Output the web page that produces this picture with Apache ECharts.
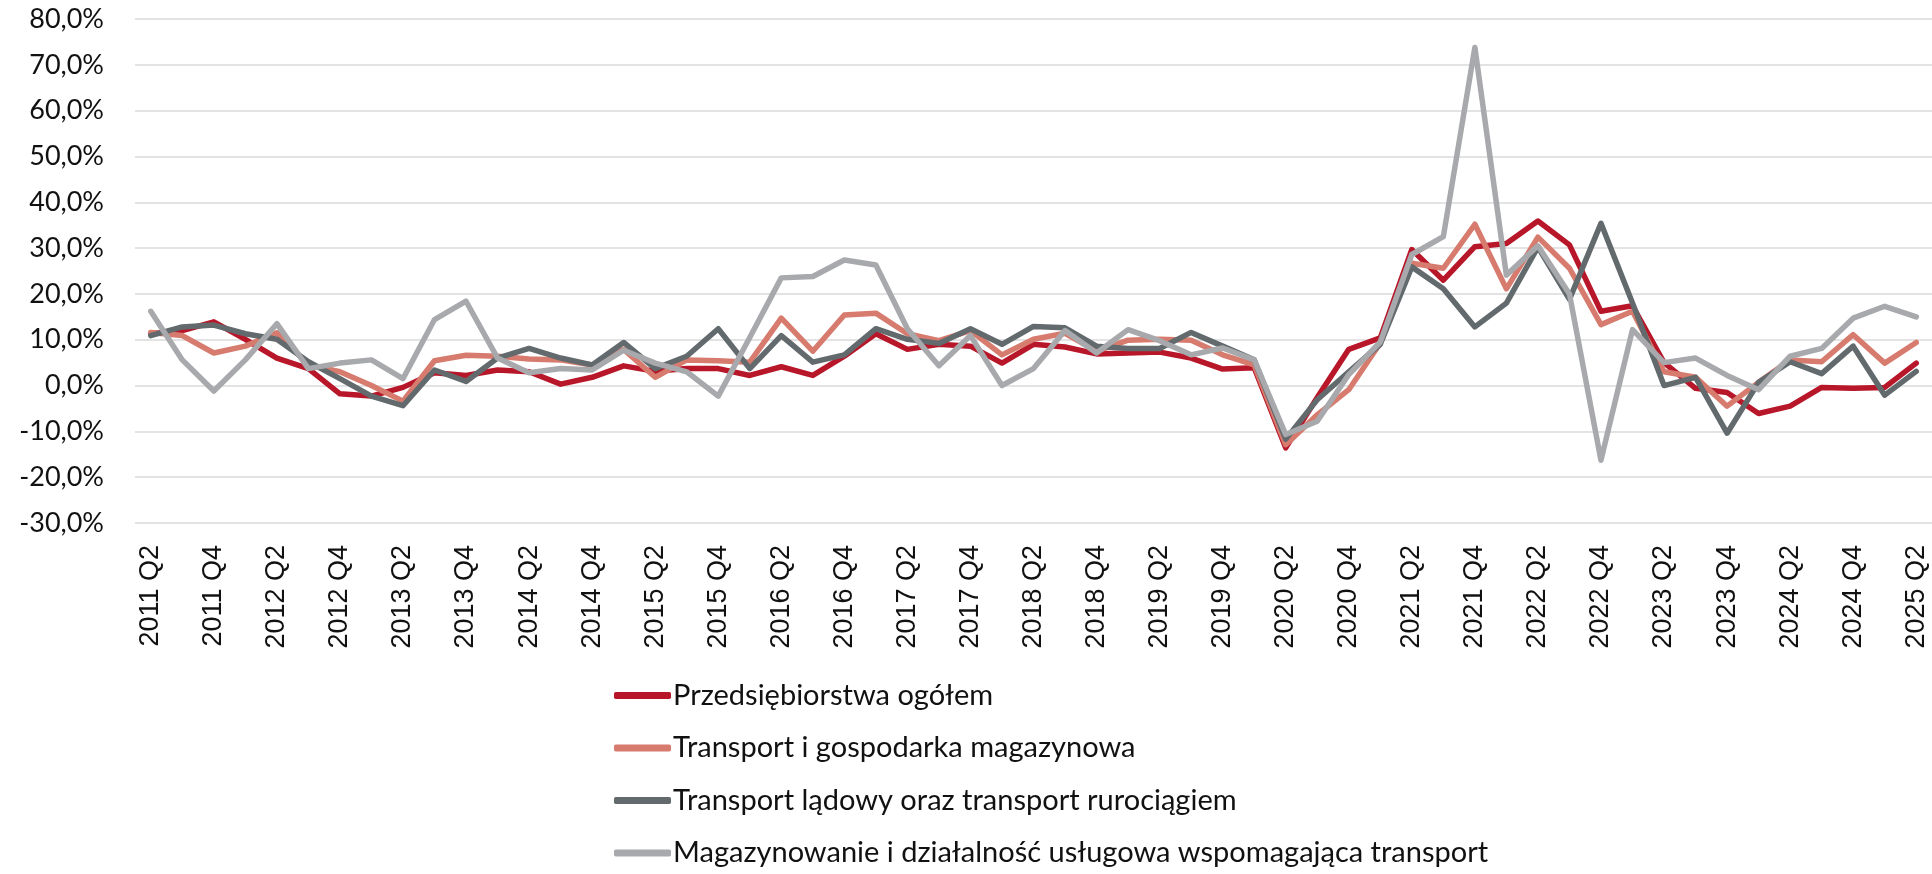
<!DOCTYPE html>
<html>
<head>
<meta charset="utf-8">
<script src="https://cdn.jsdelivr.net/npm/echarts@6/dist/echarts.min.js"></script>
<style>
html,body{margin:0;padding:0;background:#fff;}
#chart{width:1932px;height:874px;}
</style>
</head>
<body>
<div id="chart"></div>
<script>
const categories = [
  '2011 Q2','2011 Q3','2011 Q4',
  '2012 Q1','2012 Q2','2012 Q3','2012 Q4',
  '2013 Q1','2013 Q2','2013 Q3','2013 Q4',
  '2014 Q1','2014 Q2','2014 Q3','2014 Q4',
  '2015 Q1','2015 Q2','2015 Q3','2015 Q4',
  '2016 Q1','2016 Q2','2016 Q3','2016 Q4',
  '2017 Q1','2017 Q2','2017 Q3','2017 Q4',
  '2018 Q1','2018 Q2','2018 Q3','2018 Q4',
  '2019 Q1','2019 Q2','2019 Q3','2019 Q4',
  '2020 Q1','2020 Q2','2020 Q3','2020 Q4',
  '2021 Q1','2021 Q2','2021 Q3','2021 Q4',
  '2022 Q1','2022 Q2','2022 Q3','2022 Q4',
  '2023 Q1','2023 Q2','2023 Q3','2023 Q4',
  '2024 Q1','2024 Q2','2024 Q3','2024 Q4',
  '2025 Q1','2025 Q2'
];

const seriesNames = [
  'Przedsiębiorstwa ogółem',
  'Transport i gospodarka magazynowa',
  'Transport lądowy oraz transport rurociągiem',
  'Magazynowanie i działalność usługowa wspomagająca transport'
];

const przedsiebiorstwa = [
  11.3, 12.0, 13.9, 10.1, 6.0, 3.7, -1.8, -2.3, -0.4, 2.8,
  2.2, 3.4, 3.0, 0.3, 1.8, 4.3, 3.1, 3.7, 3.7, 2.2,
  4.1, 2.2, 6.4, 11.3, 7.9, 9.0, 8.6, 4.9, 9.0, 8.4,
  6.9, 7.1, 7.3, 6.0, 3.6, 3.9, -13.6, -2.6, 7.9, 10.4,
  29.7, 23.0, 30.3, 31.0, 35.9, 30.7, 16.2, 17.4, 5.0, -0.6,
  -1.5, -6.1, -4.5, -0.4, -0.6, -0.4, 4.9
];

const transportGospodarka = [
  11.6, 10.9, 7.1, 8.6, 11.5, 4.5, 3.0, 0.0, -3.4, 5.4,
  6.6, 6.4, 5.8, 5.6, 4.5, 7.9, 1.8, 5.6, 5.4, 5.1,
  14.7, 7.5, 15.4, 15.8, 11.3, 9.8, 12.0, 6.7, 10.1, 11.4,
  7.5, 9.9, 10.1, 9.9, 6.7, 4.5, -12.9, -6.4, -0.9, 9.3,
  26.7, 25.6, 35.2, 21.1, 32.4, 25.6, 13.3, 16.2, 3.0, 1.8,
  -4.5, 0.7, 5.6, 5.2, 11.1, 4.9, 9.4
];

const transportLadowy = [
  10.9, 12.8, 13.2, 11.3, 10.1, 5.2, 1.5, -2.3, -4.4, 3.4,
  0.9, 6.0, 8.1, 6.0, 4.5, 9.4, 3.7, 6.4, 12.4, 3.7,
  10.9, 5.1, 6.7, 12.4, 10.1, 9.2, 12.4, 9.0, 12.9, 12.6,
  8.6, 8.1, 8.1, 11.6, 8.6, 5.6, -11.7, -3.1, 3.0, 9.0,
  25.9, 21.1, 12.8, 18.0, 30.2, 18.8, 35.4, 18.0, 0.0, 1.8,
  -10.4, 0.7, 5.2, 2.6, 8.6, -2.1, 3.1
];

const magazynowanie = [
  16.2, 5.6, -1.2, 5.6, 13.5, 3.7, 4.9, 5.6, 1.5, 14.4,
  18.4, 6.0, 2.8, 3.7, 3.4, 7.7, 4.9, 3.0, -2.3, 10.5,
  23.5, 23.8, 27.4, 26.3, 12.4, 4.3, 10.9, 0.0, 3.7, 12.0,
  7.1, 12.2, 9.8, 6.7, 8.2, 5.6, -10.7, -7.8, 2.4, 9.5,
  28.6, 32.5, 73.8, 24.1, 30.5, 20.0, -16.3, 12.2, 5.0, 6.0,
  2.2, -0.9, 6.4, 8.1, 14.7, 17.3, 15.0
];

const colors = ['#b8172a', '#d67b6e', '#636a6d', '#a7a9ac'];
const seriesData = [przedsiebiorstwa, transportGospodarka, transportLadowy, magazynowanie];

const chart = echarts.init(document.getElementById('chart'), null, {renderer: 'canvas'});

chart.setOption({
  animation: false,
  backgroundColor: '#ffffff',
  color: colors,
  grid: {left: 135, right: -4, top: 19, bottom: 351, containLabel: false},
  legend: {
    orient: 'vertical',
    left: 609,
    top: 676,
    height: 200,
    itemWidth: 57,
    itemHeight: 7,
    itemGap: 23.5,
    icon: 'roundRect',
    textStyle: {fontFamily: 'Lato', fontSize: 29, color: '#111', lineHeight: 20, padding: [0, 0, 0, -3]},
    data: seriesNames
  },
  xAxis: {
    type: 'category',
    data: categories,
    boundaryGap: true,
    axisLine: {show: false},
    axisTick: {show: false},
    axisLabel: {
      interval: 1,
      rotate: 90,
      margin: 22,
      fontFamily: 'Liberation Sans',
      fontSize: 27,
      color: '#111'
    },
    splitLine: {show: false}
  },
  yAxis: {
    type: 'value',
    min: -30,
    max: 80,
    interval: 10,
    axisLine: {show: false},
    axisTick: {show: false},
    axisLabel: {
      margin: 31,
      fontFamily: 'Lato',
      fontSize: 27,
      color: '#111',
      formatter: v => v.toFixed(1).replace('.', ',') + '%'
    },
    splitLine: {lineStyle: {color: '#e3e3e3', width: 2}}
  },
  series: seriesNames.map((name, k) => ({
    name: name,
    type: 'line',
    data: seriesData[k],
    symbol: 'none',
    lineStyle: {width: 5.5, color: colors[k], join: 'round', cap: 'round'},
    itemStyle: {color: colors[k]}
  }))
});
</script>
</body>
</html>
